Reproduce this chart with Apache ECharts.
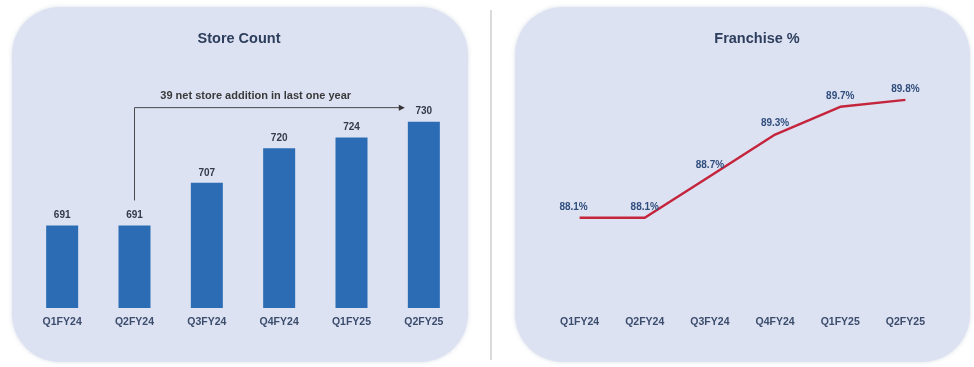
<!DOCTYPE html>
<html>
<head>
<meta charset="utf-8">
<script src="https://cdn.jsdelivr.net/npm/echarts@6/dist/echarts.min.js"></script>
<style>
  html, body { margin: 0; padding: 0; background: #ffffff; }
  #chart { width: 974px; height: 367px; }
</style>
</head>
<body>
<div id="chart"></div>
<script>
// Quarters shown on both panels
const quarters = ['Q1FY24', 'Q2FY24', 'Q3FY24', 'Q4FY24', 'Q1FY25', 'Q2FY25'];
// Store count per quarter
const storeCount = [691, 691, 707, 720, 724, 730];
// Share of franchised stores, percent
const franchisePct = [88.1, 88.1, 88.7, 89.3, 89.7, 89.8];
// Panel titles and call-out text
const leftTitle = 'Store Count';
const rightTitle = 'Franchise %';
const calloutText = '39 net store addition in last one year';

const FONT = '"Liberation Sans", Arial, Helvetica, sans-serif';
const PANEL = '#dce2f2';
const AXIS_TXT = '#3c4c6c';

const chart = echarts.init(document.getElementById('chart'), null, { renderer: 'canvas' });

const axisLabel = { color: AXIS_TXT, fontFamily: FONT, fontSize: 10.5, fontWeight: 'bold', margin: 9 };

const baseGraphics = [
  { type: 'rect', id: 'panelL', z: -10, shape: { x: 12, y: 7, width: 456, height: 355, r: 48 },
    style: { fill: PANEL, shadowBlur: 4, shadowColor: 'rgba(150,160,190,0.35)' } },
  { type: 'rect', id: 'panelR', z: -10, shape: { x: 515, y: 7, width: 455, height: 355, r: 48 },
    style: { fill: PANEL, shadowBlur: 4, shadowColor: 'rgba(150,160,190,0.35)' } },
  { type: 'line', id: 'divider', z: -10, shape: { x1: 491, y1: 10, x2: 491, y2: 360 },
    style: { stroke: '#cfcfcf', lineWidth: 1.5 } }
];

chart.setOption({
  animation: false,
  backgroundColor: '#ffffff',
  title: [
    { text: leftTitle, left: 234, top: 26, textAlign: 'center',
      textStyle: { color: '#2d3d5c', fontFamily: FONT, fontSize: 14.5, fontWeight: 'bold' } },
    { text: rightTitle, left: 752, top: 26, textAlign: 'center',
      textStyle: { color: '#2d3d5c', fontFamily: FONT, fontSize: 14.5, fontWeight: 'bold' } }
  ],
  grid: [
    { left: 26, top: 95, width: 434, height: 213, containLabel: false },
    { left: 547, top: 86, width: 391, height: 222, containLabel: false }
  ],
  xAxis: [
    { type: 'category', gridIndex: 0, data: quarters, axisLine: { show: false }, axisTick: { show: false }, axisLabel },
    { type: 'category', gridIndex: 1, data: quarters, boundaryGap: true, axisLine: { show: false }, axisTick: { show: false }, axisLabel }
  ],
  yAxis: [
    { type: 'value', gridIndex: 0, min: 660, max: 740, show: false, splitLine: { show: false } },
    { type: 'value', gridIndex: 1, min: 86.8, max: 90, show: false, splitLine: { show: false } }
  ],
  series: [
    {
      type: 'bar', xAxisIndex: 0, yAxisIndex: 0, data: storeCount, barWidth: 32,
      itemStyle: { color: '#2b6cb4' },
      label: { show: true, position: 'top', distance: 5, color: '#333a48',
        fontFamily: FONT, fontSize: 10, fontWeight: 'bold' }
    },
    {
      type: 'line', xAxisIndex: 1, yAxisIndex: 1,
      data: franchisePct.map((v, i) => i === 0 ? { value: v, label: { offset: [-6, 0] } } : v),
      showSymbol: true, symbol: 'circle', symbolSize: 2,
      itemStyle: { color: 'rgba(0,0,0,0)' },
      lineStyle: { color: '#c4253d', width: 2.5 },
      label: { show: true, position: 'top', distance: 5, color: '#2f4d7c',
        fontFamily: FONT, fontSize: 10, fontWeight: 'bold',
        formatter: p => p.value.toFixed(1) + '%' }
    }
  ],
  graphic: baseGraphics
});

// Call-out: bracket from Q2FY24 over to the latest bar, with an arrow head
const startPt = chart.convertToPixel({ xAxisIndex: 0, yAxisIndex: 0 }, [quarters[1], storeCount[1]]);
const endPt = chart.convertToPixel({ xAxisIndex: 0, yAxisIndex: 0 }, [quarters[5], storeCount[5]]);
const topY = endPt[1] - 14;
const lowY = startPt[1] - 25;
const arrowX = endPt[0] - 19;

chart.setOption({
  graphic: baseGraphics.concat([
    { type: 'polyline', id: 'callLine', z: 10,
      shape: { points: [[startPt[0], lowY], [startPt[0], topY], [arrowX - 4, topY]] },
      style: { stroke: '#4a4a4a', lineWidth: 1, fill: null } },
    { type: 'polygon', id: 'callArrow', z: 10,
      shape: { points: [[arrowX - 6, topY - 3], [arrowX, topY], [arrowX - 6, topY + 3]] },
      style: { fill: '#333333' } },
    { type: 'text', id: 'callText', z: 10, x: (startPt[0] + arrowX) / 2 - 14, y: topY - 12,
      style: { text: calloutText, fill: '#3a3a3a', font: 'bold 11px ' + FONT,
        textAlign: 'center', textVerticalAlign: 'middle' } }
  ])
});
</script>
</body>
</html>
